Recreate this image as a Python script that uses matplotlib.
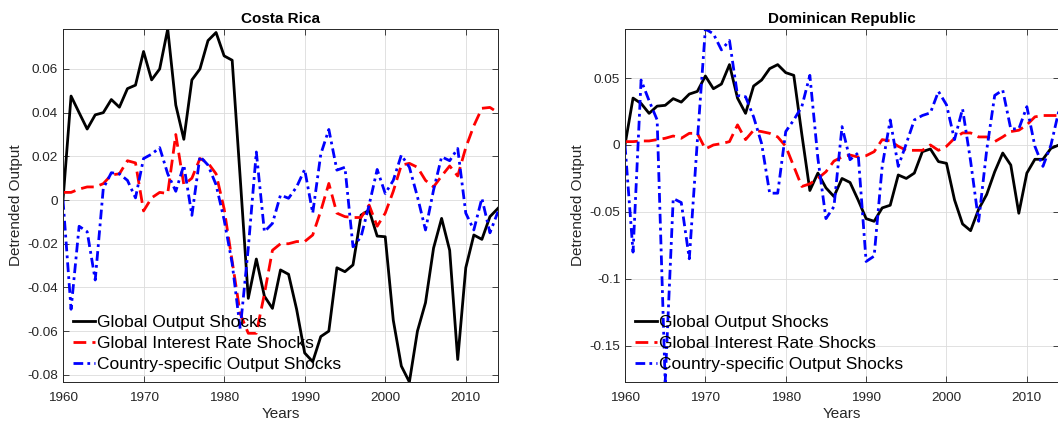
import numpy as np
import matplotlib
matplotlib.use('Agg')
import matplotlib.pyplot as plt
from matplotlib.ticker import FuncFormatter

plt.rcParams['font.family'] = ['Liberation Sans', 'DejaVu Sans']
plt.rcParams['axes.unicode_minus'] = False

# ---------------------------------------------------------------------------
years = np.arange(1960, 2015)

# Costa Rica
cr_global_output = [
    0.0, 0.0476, 0.040, 0.0325, 0.039, 0.040, 0.046, 0.0425, 0.051, 0.0526,
    0.068, 0.055, 0.060, 0.0783, 0.0435, 0.0278, 0.055, 0.060, 0.073, 0.0767,
    0.066, 0.064, 0.010, -0.045, -0.027, -0.044, -0.0496, -0.032, -0.034, -0.050,
    -0.070, -0.074, -0.0625, -0.060, -0.031, -0.0328, -0.0297, -0.0069, -0.0046, -0.0165,
    -0.0168, -0.055, -0.076, -0.0833, -0.060, -0.047, -0.022, -0.0084, -0.023, -0.073,
    -0.031, -0.016, -0.018, -0.0076, -0.0038]
cr_interest = [
    0.0035, 0.0035, 0.005, 0.006, 0.006, 0.0075, 0.0115, 0.012, 0.018, 0.017,
    -0.005, 0.001, 0.0035, 0.003, 0.030, 0.007, 0.010, 0.019, 0.017, 0.012,
    -0.004, -0.028, -0.052, -0.061, -0.061, -0.043, -0.023, -0.020, -0.020, -0.019,
    -0.019, -0.016, -0.005, 0.0076, -0.006, -0.0076, -0.008, -0.008, -0.0023, -0.012,
    -0.006, 0.004, 0.016, 0.0168, 0.015, 0.009, 0.006, 0.011, 0.0156, 0.011,
    0.024, 0.034, 0.042, 0.0424, 0.040]
cr_country = [
    0.0, -0.050, -0.012, -0.0145, -0.0366, 0.0053, 0.0125, 0.012, 0.009, 0.001,
    0.019, 0.021, 0.024, 0.012, 0.004, 0.016, -0.007, 0.020, 0.016, 0.007,
    -0.009, -0.029, -0.059, -0.022, 0.022, -0.0145, -0.0107, 0.0023, 0.0008, 0.006,
    0.014, -0.006, 0.021, 0.0323, 0.0137, 0.015, -0.0214, -0.0168, -0.0023, 0.014,
    0.003, 0.009, 0.0206, 0.015, 0.0015, -0.0137, 0.0046, 0.0198, 0.018, 0.0236,
    -0.006, -0.0137, 0.0008, -0.015, -0.0053]

# Dominican Republic
dr_global_output = [
    0.0, 0.035, 0.031, 0.0236, 0.029, 0.0296, 0.0346, 0.032, 0.038, 0.040,
    0.0515, 0.042, 0.0455, 0.060, 0.035, 0.0236, 0.044, 0.0485, 0.057, 0.060,
    0.054, 0.052, 0.008, -0.034, -0.021, -0.032, -0.0385, -0.025, -0.028, -0.041,
    -0.055, -0.057, -0.047, -0.045, -0.0224, -0.025, -0.021, -0.005, -0.003, -0.0124,
    -0.0137, -0.041, -0.059, -0.064, -0.048, -0.037, -0.020, -0.006, -0.015, -0.051,
    -0.021, -0.0107, -0.0107, -0.0025, 0.0]
dr_interest = [
    0.0025, 0.0025, 0.003, 0.003, 0.004, 0.005, 0.0067, 0.005, 0.0087, 0.0087,
    -0.003, 0.0, 0.001, 0.0025, 0.015, 0.004, 0.011, 0.010, 0.0087, 0.006,
    -0.001, -0.016, -0.031, -0.029, -0.025, -0.020, -0.012, -0.009, -0.0075, -0.009,
    -0.008, -0.005, 0.004, 0.003, -0.001, -0.004, -0.004, -0.004, 0.0, -0.004,
    -0.001, 0.005, 0.009, 0.009, 0.006, 0.006, 0.0025, 0.006, 0.010, 0.011,
    0.015, 0.021, 0.022, 0.022, 0.022]
dr_country = [
    0.0, -0.080, 0.0485, 0.033, 0.0187, -0.177, -0.040, -0.043, -0.085, 0.003,
    0.0866, 0.083, 0.071, 0.078, 0.037, 0.036, 0.021, 0.001, -0.036, -0.036,
    0.010, 0.0187, 0.0286, 0.052, -0.010, -0.055, -0.046, 0.0137, -0.011, -0.006,
    -0.087, -0.083, -0.016, 0.0187, -0.016, 0.001, 0.0187, 0.022, 0.024, 0.040,
    0.030, 0.004, 0.027, -0.012, -0.057, -0.004, 0.037, 0.041, 0.012, 0.012,
    0.0286, -0.001, -0.016, 0.0, 0.026]

labels = ['Global Output Shocks', 'Global Interest Rate Shocks',
          'Country-specific Output Shocks']


# ---------------------------------------------------------------------------
def panel(ax, title, out, rate, country, yticks):
    ax.plot(years, out, color='k', lw=2, label=labels[0])
    ax.plot(years, rate, color='r', lw=2, ls=(0, (4.6, 2.2)), label=labels[1])
    ax.plot(years, country, color='b', lw=2, ls=(0, (3.5, 1.5, 1.0, 1.5)),
            label=labels[2])
    allv = np.concatenate([out, rate, country])
    ax.set_xlim(years[0], years[-1])
    ax.set_ylim(allv.min(), allv.max())
    ax.set_xticks(np.arange(1960, 2011, 10))
    ax.set_yticks(yticks)
    ax.yaxis.set_major_formatter(FuncFormatter(lambda v, p: '%g' % round(v, 4)))
    ax.grid(True, color='#dcdcdc', lw=0.6)
    ax.set_axisbelow(True)
    ax.tick_params(direction='in', top=True, right=True, length=4,
                   labelsize=9.7, colors='#262626', width=0.6)
    ax.tick_params(axis='x', pad=7)
    for s in ax.spines.values():
        s.set_color('#262626')
        s.set_linewidth(0.7)
    ax.set_title(title, fontsize=11, fontweight='bold', pad=4)
    ax.set_xlabel('Years', fontsize=11, color='#262626', labelpad=2)
    ax.set_ylabel('Detrended Output', fontsize=11, color='#262626', labelpad=3)
    ax.legend(loc='lower left', frameon=False, fontsize=12.5,
              handlelength=1.3, handletextpad=0.1, labelspacing=0.33,
              borderaxespad=0.2, bbox_to_anchor=(-0.002, 0.0))


fig = plt.figure(figsize=(10.58, 4.24), dpi=100)
ax1 = fig.add_axes([63 / 1058, 1 - 382 / 424, 435 / 1058, 353 / 424])
ax2 = fig.add_axes([625 / 1058, 1 - 382 / 424, 434 / 1058, 353 / 424])

panel(ax1, 'Costa Rica', cr_global_output, cr_interest, cr_country,
      [-0.08, -0.06, -0.04, -0.02, 0, 0.02, 0.04, 0.06])
panel(ax2, 'Dominican Republic', dr_global_output, dr_interest, dr_country,
      [-0.15, -0.1, -0.05, 0, 0.05])

fig.savefig('out.png', dpi=100)
